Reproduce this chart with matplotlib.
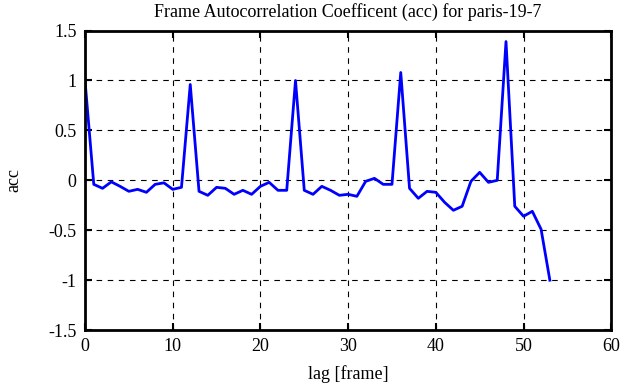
import matplotlib
matplotlib.use("Agg")
import matplotlib.pyplot as plt
from matplotlib.ticker import FuncFormatter

plt.rcParams['font.family'] = ['Liberation Serif', 'DejaVu Serif']
plt.rcParams['axes.unicode_minus'] = False

lags = list(range(54))
acc = [1.0, -0.04, -0.08, -0.015, -0.06, -0.11, -0.09, -0.12, -0.04, -0.025,
       -0.09, -0.07, 0.96, -0.11, -0.15, -0.07, -0.08, -0.14, -0.10, -0.14,
       -0.06, -0.02, -0.10, -0.10, 1.0, -0.10, -0.14, -0.06, -0.10, -0.15,
       -0.14, -0.16, -0.01, 0.02, -0.04, -0.04, 1.08, -0.08, -0.18, -0.11,
       -0.12, -0.22, -0.30, -0.26, -0.01, 0.08, -0.02, 0.0, 1.39, -0.26,
       -0.36, -0.31, -0.49, -1.0]

xticks = [0, 10, 20, 30, 40, 50, 60]
yticks = [-1.5, -1, -0.5, 0, 0.5, 1, 1.5]

fig = plt.figure(figsize=(6.25, 3.87), dpi=100)
ax = fig.add_axes([0.136, 0.147, 0.842, 0.774])
ax.plot(lags, acc, color='#0000ff', linewidth=2)
ax.set_xlim(0, 60)
ax.set_ylim(-1.5, 1.5)
ax.set_xticks(xticks)
ax.set_yticks(yticks)
ax.yaxis.set_major_formatter(FuncFormatter(lambda v, p: ('%g' % v)))
ax.grid(True, color='black', linestyle=(0, (5, 5)), linewidth=0.8)
ax.tick_params(direction='in', top=True, right=True, length=5, width=1.5,
               labelsize=13, colors='black', pad=6)
for s in ax.spines.values():
    s.set_linewidth(2)
ax.set_xlabel('lag [frame]', fontsize=13, labelpad=7)
ax.set_ylabel('acc', fontsize=13, labelpad=19)
ax.set_title('Frame Autocorrelation Coefficent (acc) for paris-19-7', fontsize=13, pad=10)
fig.savefig('out.png', dpi=100)
